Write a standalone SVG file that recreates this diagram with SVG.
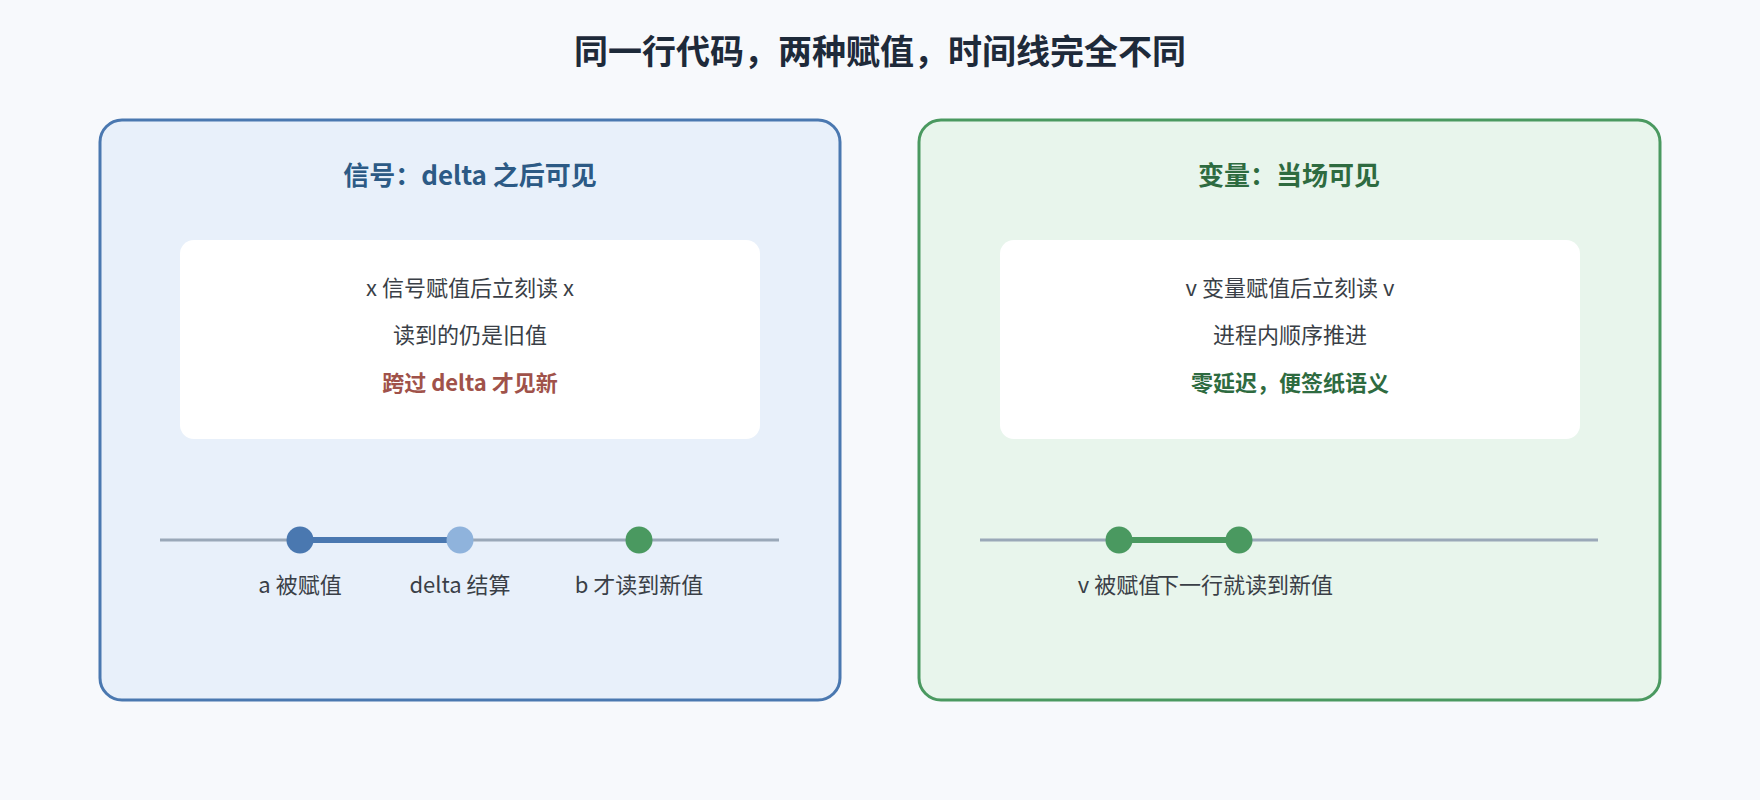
<svg xmlns="http://www.w3.org/2000/svg" width="1760" height="800" viewBox="0 0 1760 800">
<style>
text{font-family:"Noto Sans CJK SC","Noto Sans",sans-serif;text-anchor:middle}
.t{font-size:22px;fill:#3a3f47}
.pt{font-size:26px;font-weight:bold}
.r{fill:#a0524a;font-weight:bold}
.g{fill:#2e6b40;font-weight:bold}
.track{stroke:#9aa8b8;stroke-width:3}
</style>
<rect width="1760" height="800" fill="#f7f9fc"/>
<text x="880" y="64" font-size="34" font-weight="bold" fill="#1e2a3a">同一行代码，两种赋值，时间线完全不同</text>
<g id="signal">
<rect x="100" y="120" width="740" height="580" rx="22" fill="#e8f0fa" stroke="#4a78b0" stroke-width="3"/>
<text class="pt" x="470" y="185" fill="#2c5a85">信号：delta 之后可见</text>
<rect x="180" y="240" width="580" height="199" rx="14" fill="#fff"/>
<text class="t" x="470" y="296">x 信号赋值后立刻读 x</text>
<text class="t" x="470" y="343">读到的仍是旧值</text>
<text class="t r" x="470" y="391">跨过 delta 才见新</text>
<line class="track" x1="160" y1="540" x2="779" y2="540"/>
<line x1="300" y1="540" x2="455" y2="540" stroke="#4a78b0" stroke-width="6"/>
<circle cx="300" cy="540" r="13.5" fill="#4a78b0"/>
<circle cx="460" cy="540" r="13.5" fill="#8fb3dc"/>
<circle cx="639" cy="540" r="13.5" fill="#4a9960"/>
<text class="t" x="300" y="593">a 被赋值</text>
<text class="t" x="460" y="593">delta 结算</text>
<text class="t" x="639" y="593">b 才读到新值</text>
</g>
<g id="variable">
<rect x="919" y="120" width="741" height="580" rx="22" fill="#e8f5ec" stroke="#4a9960" stroke-width="3"/>
<text class="pt" x="1289" y="185" fill="#2e6b40">变量：当场可见</text>
<rect x="1000" y="240" width="580" height="199" rx="14" fill="#fff"/>
<text class="t" x="1290" y="296">v 变量赋值后立刻读 v</text>
<text class="t" x="1290" y="343">进程内顺序推进</text>
<text class="t g" x="1290" y="391">零延迟，便签纸语义</text>
<line class="track" x1="980" y1="540" x2="1598" y2="540"/>
<line x1="1119" y1="540" x2="1239" y2="540" stroke="#4a9960" stroke-width="6"/>
<circle cx="1119" cy="540" r="13.5" fill="#4a9960"/>
<circle cx="1239" cy="540" r="13.5" fill="#4a9960"/>
<text class="t" x="1119" y="593">v 被赋值</text>
<text class="t" x="1245" y="593">下一行就读到新值</text>
</g>
</svg>
